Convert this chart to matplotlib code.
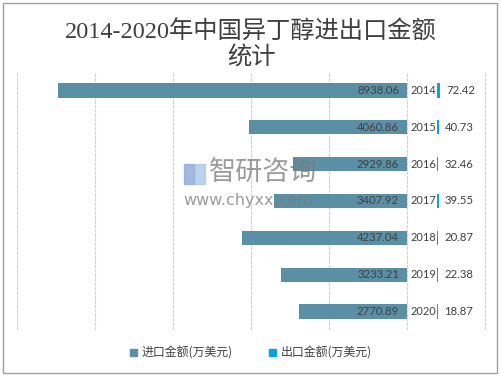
"""
2014-2020 isobutanol import / export amounts, butterfly style bar chart.
"""

import matplotlib.pyplot as plt
from matplotlib.patches import Patch, Rectangle
import numpy as np

plt.rcParams['font.family'] = ['Noto Sans CJK SC', 'DejaVu Sans']

IMP_CL = '#5b8fa6'
EXP_CL = '#0aa2da'
TXT_CL = '#404040'
GRID_CL = '#cfcfcf'

# Data -------------------------------------------------------------------------

years = ['2014', '2015', '2016', '2017', '2018', '2019', '2020']
imports = [8938.06, 4060.86, 2929.86, 3407.92, 4237.04, 3233.21, 2770.89]
exports = [72.42, 40.73, 32.46, 39.55, 20.87, 22.38, 18.87]

title = '2014-2020年中国异丁醇进出口金额\n统计'
leg_imp = '进口金额(万美元)'
leg_exp = '出口金额(万美元)'

# export bars start a bit right of zero, leaving room for year labels
exp_base = 770

# Plot -------------------------------------------------------------------------

fig = plt.figure(figsize=(5.02, 3.77), dpi=100)
ax = fig.add_axes([17 / 502, 47 / 377, 476 / 502, 258 / 377])

yy = np.arange(len(years))
ax.barh(yy, [-v for v in imports], height=0.39, color=IMP_CL, zorder=2)
ax.barh(yy, exports, left=exp_base, height=0.39, color=EXP_CL, zorder=2)

for i in range(len(years)):
	ax.annotate('%.2f' % imports[i], (0, yy[i]), xytext=(-8, 0),
		textcoords='offset pixels', ha='right', va='center',
		fontsize=8.2, color=TXT_CL, family='Lato', zorder=3)
	ax.annotate(years[i], (0, yy[i]), xytext=(3, 0),
		textcoords='offset pixels', ha='left', va='center',
		fontsize=7.9, color=TXT_CL, family='Lato', zorder=3)
	ax.annotate('%.2f' % exports[i], (exp_base + exports[i], yy[i]), xytext=(6, 0),
		textcoords='offset pixels', ha='left', va='center',
		fontsize=8.2, color=TXT_CL, family='Lato', zorder=3)

ax.set_xlim(-10000, 2200)
ax.set_ylim(len(years) - 0.5, -0.5)
ax.set_xticks(np.arange(-10000, 2001, 2000))
ax.set_yticks([])
ax.tick_params(axis='x', length=0, labelbottom=False)
ax.grid(axis='x', color=GRID_CL, linestyle=(0, (3, 1)), linewidth=0.8, zorder=0)
for s in ax.spines.values():
	s.set_visible(False)

fig.text(0.5, 1 - 45 / 377, title, ha='center', va='center', fontsize=17.5,
	color=TXT_CL, linespacing=1.2, family=['Liberation Serif', 'Noto Sans CJK SC'])

handles = [Patch(color=IMP_CL), Patch(color=EXP_CL)]
fig.legend(handles, [leg_imp, leg_exp], loc='center', bbox_to_anchor=(0.5, 24 / 377),
	ncol=2, frameon=False, prop={'size': 8.6, 'weight': 'medium'},
	handlelength=0.6, handleheight=0.6, handletextpad=0.4, columnspacing=3.0,
	labelcolor=TXT_CL)

# watermark
fig.text(209 / 502, 1 - 172 / 377, '智研咨询', ha='left', va='center', fontsize=19.5,
	color='#7a7a7a', alpha=0.75, zorder=5)
fig.text(183 / 502, 1 - 201 / 377, 'www.chyxx.com', ha='left', va='center', fontsize=11.5,
	color='#7a7a7a', alpha=0.75, zorder=5, family='DejaVu Sans')
fig.patches.append(Rectangle((184 / 502, 1 - 184 / 377), 10 / 502, 20 / 377,
	transform=fig.transFigure, color='#8fa8d8', alpha=0.8, zorder=5))
fig.patches.append(Rectangle((195 / 502, 1 - 184 / 377), 10 / 502, 20 / 377,
	transform=fig.transFigure, color='#a9c9ea', alpha=0.8, zorder=5))

# outer border
fig.patches.append(Rectangle((3 / 502, 4 / 377), 494 / 502, 370 / 377,
	transform=fig.transFigure, fill=False, edgecolor='#a0a0a0', linewidth=1))

fig.savefig('out.png', dpi=100)
